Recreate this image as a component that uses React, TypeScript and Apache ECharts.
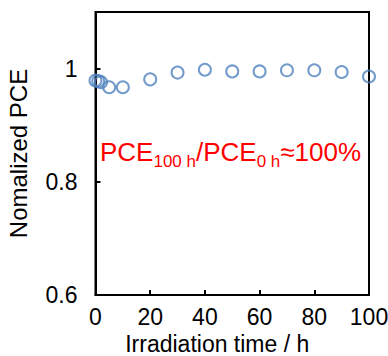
import React, { useEffect, useRef } from "react";
import * as echarts from "echarts";

const hours = [0, 1, 2, 5, 10, 20, 30, 40, 50, 60, 70, 80, 90, 100];
const normPCE = [0.979, 0.978, 0.976, 0.967, 0.967, 0.981, 0.993, 0.998, 0.995, 0.995, 0.997, 0.997, 0.994, 0.986];
const xTitle = "Irradiation time / h";
const yTitle = "Nomalized PCE";

const FONT = "Arial, 'Liberation Sans', sans-serif";

export default function App() {
  const ref = useRef<HTMLDivElement>(null);
  useEffect(() => {
    if (!ref.current) return;
    const chart = echarts.init(ref.current, null, { renderer: "svg" });
    const data = hours.map((h, i) => [h, normPCE[i]]);
    chart.setOption({
      animation: false,
      backgroundColor: "#fff",
      textStyle: { fontFamily: FONT },
      grid: {
        left: 95.5,
        top: 12,
        right: 19,
        bottom: 61,
        containLabel: false,
        outerBoundsMode: "none",
        show: true,
        borderColor: "#000",
        borderWidth: 2,
        backgroundColor: "transparent",
      },
      xAxis: {
        type: "value",
        min: 0,
        max: 100,
        interval: 20,
        name: xTitle,
        nameLocation: "middle",
        nameGap: 30,
        nameTextStyle: { fontSize: 23, color: "#000", fontFamily: FONT, padding: [0, 30, 0, 0] },
        axisLine: { show: true, lineStyle: { color: "#000", width: 2 } },
        axisTick: { show: true, inside: true, length: 5, lineStyle: { color: "#000", width: 2 } },
        axisLabel: { fontSize: 23, color: "#000", margin: 10, fontFamily: FONT },
        splitLine: { show: false },
      },
      yAxis: {
        type: "value",
        min: 0.6,
        max: 1.1,
        interval: 0.2,
        name: yTitle,
        nameLocation: "middle",
        nameGap: 65,
        nameTextStyle: { fontSize: 24, color: "#000", fontFamily: FONT },
        axisLine: { show: true, lineStyle: { color: "#000", width: 2 } },
        axisTick: { show: true, inside: true, length: 5, lineStyle: { color: "#000", width: 2 } },
        axisLabel: { fontSize: 23, color: "#000", margin: 18, showMaxLabel: false, fontFamily: FONT },
        splitLine: { show: false },
      },
      series: [
        {
          type: "scatter",
          data,
          symbol: "circle",
          symbolSize: 12,
          itemStyle: { color: "transparent", borderColor: "#4F81BD", borderWidth: 2 },
          clip: false,
        },
      ],
      graphic: [
        {
          type: "text",
          left: 100,
          top: 139,
          style: {
            text: "{m|PCE}{s|100 h}{m|/PCE}{s|0 h}{m|≈100%}",
            rich: {
              m: { fontSize: 26, fill: "#FF0000", fontFamily: FONT, lineHeight: 36, verticalAlign: "middle" },
              s: { fontSize: 17, fill: "#FF0000", fontFamily: FONT, lineHeight: 17, verticalAlign: "bottom" },
            },
          },
        },
      ],
    });
    return () => chart.dispose();
  }, []);
  return <div ref={ref} style={{ position: "fixed", left: 0, top: 0, width: 388, height: 356 }} />;
}
